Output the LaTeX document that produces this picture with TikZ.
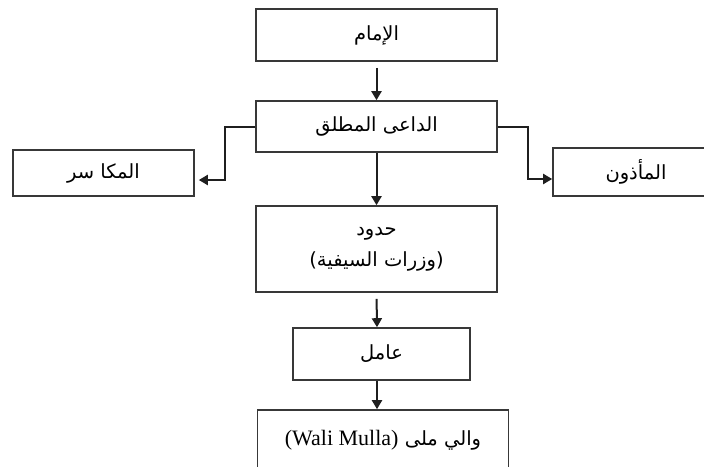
\documentclass[tikz,border=0pt]{standalone}
\usepackage{fontspec}
\usetikzlibrary{arrows.meta}
\TeXXeTstate=1
\newfontfamily\arabicfont[Script=Arabic]{DejaVu Sans}
\newfontfamily\latinserif{Liberation Serif}
\tikzset{
  box/.style={draw=black!78, line width=1.6pt, inner sep=0pt, align=center,
    font=\arabicfont\fontsize{19.5}{31}\selectfont},
  conn/.style={draw=black!88, line width=2pt, -{Triangle[length=9pt,width=10pt]}},
}
\begin{document}
\begin{tikzpicture}[x=1pt,y=-1pt]
\useasboundingbox (0,0) rectangle (704,466);
\clip (0,0) rectangle (704,466);
\node[box, minimum width=241pt, minimum height=52pt] (imam) at (376.5,35) {\beginR الإمام\endR};
\node[box, minimum width=241pt, minimum height=51pt] (dai) at (376.5,126.5) {\beginR الداعى المطلق\endR};
\node[box, minimum width=181pt, minimum height=46pt] (mak) at (103.5,173) {\beginR المكا سر\endR};
\node[box, minimum width=166pt, minimum height=48pt] (mad) at (636,172) {\beginR المأذون\endR};
\node[box, minimum width=241pt, minimum height=86pt] (hud) at (376.5,249) {\beginR حدود\endR\\\beginR (وزرات السيفية)\endR};
\node[box, minimum width=177pt, minimum height=52pt] (amil) at (381.5,354) {\beginR عامل\endR};
\node[box, minimum width=251pt, minimum height=60pt] (wali) at (383,440) {{\latinserif\fontsize{22}{24}\selectfont (Wali Mulla)} \beginR والي ملى\endR};
\draw[conn, shorten <=6pt] (imam.south) -- (dai.north);
\draw[conn] (dai.south) -- (hud.north);
\draw[conn, shorten <=6pt] (hud.south) -- ([xshift=-4.5pt]amil.north);
\draw[conn] ([xshift=-4.5pt]amil.south) -- ([xshift=-6pt]wali.north);
\draw[conn, shorten >=4pt] (dai.west) -- ++(-30,0) |- ([yshift=-7pt]mak.east);
\draw[conn] (dai.east) -- ++(30,0) |- ([yshift=-7pt]mad.west);
\end{tikzpicture}
\end{document}
